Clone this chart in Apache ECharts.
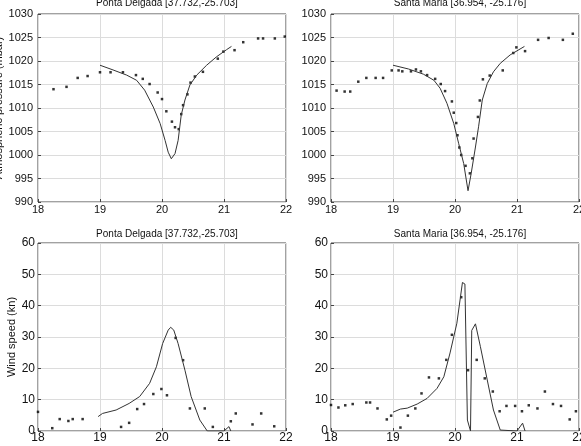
<!DOCTYPE html>
<html>
<head>
<meta charset="utf-8">
<script src="https://cdn.jsdelivr.net/npm/echarts@6/dist/echarts.min.js"></script>
<style>
  html, body { margin: 0; padding: 0; background: #fff; }
  #chart { width: 581px; height: 446px; }
</style>
</head>
<body>
<div id="chart"></div>
<script>
// Station titles
var titlePD = 'Ponta Delgada [37.732,-25.703]';
var titleSM = 'Santa Maria [36.954, -25.176]';

// Ponta Delgada - pressure, observations
var pdPresObsT = [18.25, 18.46, 18.64, 18.80, 19.00, 19.17, 19.37, 19.58, 19.69, 19.80, 19.93, 20.00, 20.07, 20.16, 20.21, 20.27, 20.31, 20.34, 20.41, 20.46, 20.53, 20.66, 20.90, 20.99, 21.17, 21.31, 21.55, 21.63, 21.82, 21.98];
var pdPresObsV = [1014.0, 1014.5, 1016.4, 1016.8, 1017.6, 1017.6, 1017.6, 1017.0, 1016.2, 1015.1, 1013.3, 1011.9, 1009.3, 1007.1, 1005.9, 1005.5, 1008.7, 1010.6, 1012.9, 1015.4, 1016.7, 1017.7, 1020.5, 1022.0, 1022.3, 1024.0, 1024.8, 1024.8, 1024.8, 1025.2];
// Ponta Delgada - pressure, model
var pdPresModT = [19.00, 19.21, 19.43, 19.59, 19.72, 19.86, 19.97, 20.05, 20.10, 20.15, 20.21, 20.26, 20.31, 20.37, 20.45, 20.56, 20.72, 20.88, 21.04, 21.12];
var pdPresModV = [1019.1, 1018.1, 1017.0, 1015.9, 1013.8, 1010.2, 1006.7, 1003.1, 1000.6, 999.2, 1000.3, 1003.1, 1008.5, 1011.7, 1014.9, 1017.0, 1019.1, 1020.9, 1022.4, 1023.1];

// Santa Maria - pressure, observations
var smPresObsT = [18.09, 18.22, 18.31, 18.44, 18.57, 18.72, 18.84, 18.98, 19.09, 19.15, 19.29, 19.37, 19.45, 19.55, 19.68, 19.77, 19.84, 19.95, 19.98, 20.02, 20.04, 20.07, 20.10, 20.17, 20.24, 20.28, 20.30, 20.37, 20.40, 20.45, 20.56, 20.77, 20.94, 20.99, 21.13, 21.34, 21.51, 21.74, 21.90];
var smPresObsV = [1013.7, 1013.5, 1013.5, 1015.6, 1016.4, 1016.4, 1016.4, 1018.0, 1018.0, 1017.8, 1017.8, 1018.2, 1017.8, 1017.0, 1016.2, 1015.1, 1013.6, 1011.4, 1009.0, 1006.8, 1004.2, 1001.6, 1000.0, 997.7, 996.1, 999.3, 1003.5, 1008.1, 1011.6, 1016.1, 1016.9, 1018.0, 1021.7, 1022.9, 1022.1, 1024.5, 1024.9, 1024.5, 1025.8];
// Santa Maria - pressure, model
var smPresModT = [19.00, 19.25, 19.49, 19.66, 19.76, 19.87, 19.98, 20.06, 20.14, 20.21, 20.26, 20.33, 20.38, 20.44, 20.52, 20.62, 20.73, 20.89, 21.12];
var smPresModV = [1019.1, 1018.3, 1017.2, 1015.9, 1014.2, 1011.0, 1006.7, 1002.4, 998.2, 992.4, 996.0, 1001.7, 1006.0, 1011.7, 1015.2, 1017.7, 1019.5, 1021.3, 1023.1];

// Ponta Delgada - wind, observations
var pdWindObsT = [18.00, 18.23, 18.35, 18.49, 18.56, 18.72, 19.34, 19.47, 19.60, 19.71, 19.86, 19.99, 20.08, 20.22, 20.34, 20.45, 20.69, 20.82, 21.11, 21.19, 21.46, 21.60, 21.81];
var pdWindObsV = [6.1, 0.9, 3.8, 3.2, 3.8, 3.8, 1.3, 2.6, 7.0, 8.6, 11.8, 13.4, 11.4, 29.7, 22.6, 7.2, 7.2, 1.3, 3.1, 5.6, 2.1, 5.6, 1.5];
// Ponta Delgada - wind, model
var pdWindModT = [18.97, 19.04, 19.26, 19.47, 19.64, 19.80, 19.91, 20.01, 20.10, 20.14, 20.19, 20.26, 20.37, 20.47, 20.61, 20.73, 21.00, 21.08, 21.11];
var pdWindModV = [4.6, 5.6, 6.7, 8.8, 11.0, 15.2, 20.5, 27.9, 32.2, 33.1, 32.2, 27.9, 19.4, 11.0, 3.5, 0, 0, 1.4, 0];

// Santa Maria - wind, observations
var smWindObsT = [18.00, 18.12, 18.23, 18.35, 18.57, 18.63, 18.75, 18.90, 18.97, 19.12, 19.24, 19.36, 19.46, 19.58, 19.74, 19.86, 19.95, 20.10, 20.21, 20.35, 20.48, 20.61, 20.72, 20.83, 20.97, 21.08, 21.19, 21.33, 21.45, 21.58, 21.71, 21.85, 21.95];
var smWindObsV = [8.3, 7.5, 8.2, 8.6, 9.1, 9.1, 7.2, 3.7, 4.9, 1.1, 4.9, 7.2, 12.0, 17.1, 16.8, 22.7, 30.7, 42.7, 19.4, 22.7, 16.8, 12.6, 6.3, 8.0, 8.0, 6.3, 8.2, 7.2, 12.6, 8.6, 8.0, 3.7, 6.3];
// Santa Maria - wind, model
var smWindModT = [19.00, 19.12, 19.23, 19.39, 19.55, 19.71, 19.82, 19.92, 20.03, 20.12, 20.16, 20.20, 20.25, 20.27, 20.33, 20.41, 20.52, 20.62, 20.73, 21.00, 21.09, 21.13];
var smWindModV = [6.0, 7.0, 7.3, 8.6, 10.4, 13.6, 17.3, 24.9, 34.4, 47.4, 46.9, 3.5, 0, 32.1, 34.2, 26.9, 16.3, 6.7, 0.3, 0, 2.5, 0];

function zip(t, v) {
  return t.map(function(x, i) { return [x, v[i]]; });
}

var font = 'Liberation Sans, Arial, sans-serif';

function plain(v) { return String(v); }

var tickStyle = { show: true, inside: true, length: 3, lineStyle: { color: '#444' } };

function xAxisFor(idx, labelSize, margin) {
  return {
    type: 'value', gridIndex: idx, min: 18, max: 22, interval: 1,
    axisLine: { show: false },
    axisTick: tickStyle,
    axisLabel: { color: '#111', fontFamily: font, fontSize: labelSize, margin: margin, formatter: plain },
    splitLine: { lineStyle: { color: '#dcdcdc', width: 1 } }
  };
}

function yAxisFor(idx, min, max, step, labelSize, margin, name, nameGap) {
  return {
    type: 'value', gridIndex: idx, min: min, max: max, interval: step,
    name: name, nameLocation: 'middle', nameGap: nameGap,
    nameTextStyle: { color: '#111', fontFamily: font, fontSize: 11 },
    axisLine: { show: false },
    axisTick: tickStyle,
    axisLabel: { color: '#111', fontFamily: font, fontSize: labelSize, margin: margin, formatter: plain },
    splitLine: { lineStyle: { color: '#dcdcdc', width: 1 } }
  };
}

function obs(idx, data) {
  return {
    type: 'scatter', xAxisIndex: idx, yAxisIndex: idx, data: data,
    symbol: 'rect', symbolSize: 2.5, itemStyle: { color: '#000' }, silent: true
  };
}

function model(idx, data) {
  return {
    type: 'line', xAxisIndex: idx, yAxisIndex: idx, data: data,
    showSymbol: false, lineStyle: { color: '#333', width: 1 }, silent: true
  };
}

var gridStyle = {
  show: true, borderColor: '#444', borderWidth: 1, backgroundColor: '#fff',
  containLabel: false, outerBoundsMode: 'none'
};
var titleText = { fontFamily: font, fontSize: 10, fontWeight: 'normal', color: '#111' };

var chart = echarts.init(document.getElementById('chart'), null, { renderer: 'canvas' });

var option = {
  animation: false,
  backgroundColor: '#fff',
  title: [
    { text: titlePD, left: 162, top: -7, textAlign: 'center', textStyle: titleText },
    { text: titleSM, left: 455, top: -7, textAlign: 'center', textStyle: titleText },
    { text: titlePD, left: 162, top: 224, textAlign: 'center', textStyle: titleText },
    { text: titleSM, left: 455, top: 224, textAlign: 'center', textStyle: titleText }
  ],
  grid: [
    Object.assign({ left: 38, top: 14, width: 248, height: 188 }, gridStyle),
    Object.assign({ left: 331, top: 14, width: 248, height: 188 }, gridStyle),
    Object.assign({ left: 38, top: 243, width: 248, height: 188 }, gridStyle),
    Object.assign({ left: 331, top: 243, width: 248, height: 188 }, gridStyle)
  ],
  xAxis: [
    xAxisFor(0, 11, 2),
    xAxisFor(1, 11, 2),
    xAxisFor(2, 12, 1),
    xAxisFor(3, 12, 1)
  ],
  yAxis: [
    yAxisFor(0, 990, 1030, 5, 11, 5, 'Atmospheric pressure (mbar)', 32),
    yAxisFor(1, 990, 1030, 5, 11, 5, '', 0),
    yAxisFor(2, 0, 60, 10, 12, 3, 'Wind speed (kn)', 20),
    yAxisFor(3, 0, 60, 10, 12, 3, '', 0)
  ],
  series: [
    model(0, zip(pdPresModT, pdPresModV)),
    obs(0, zip(pdPresObsT, pdPresObsV)),
    model(1, zip(smPresModT, smPresModV)),
    obs(1, zip(smPresObsT, smPresObsV)),
    model(2, zip(pdWindModT, pdWindModV)),
    obs(2, zip(pdWindObsT, pdWindObsV)),
    model(3, zip(smWindModT, smWindModV)),
    obs(3, zip(smWindObsT, smWindObsV))
  ]
};

chart.setOption(option);
</script>
</body>
</html>
